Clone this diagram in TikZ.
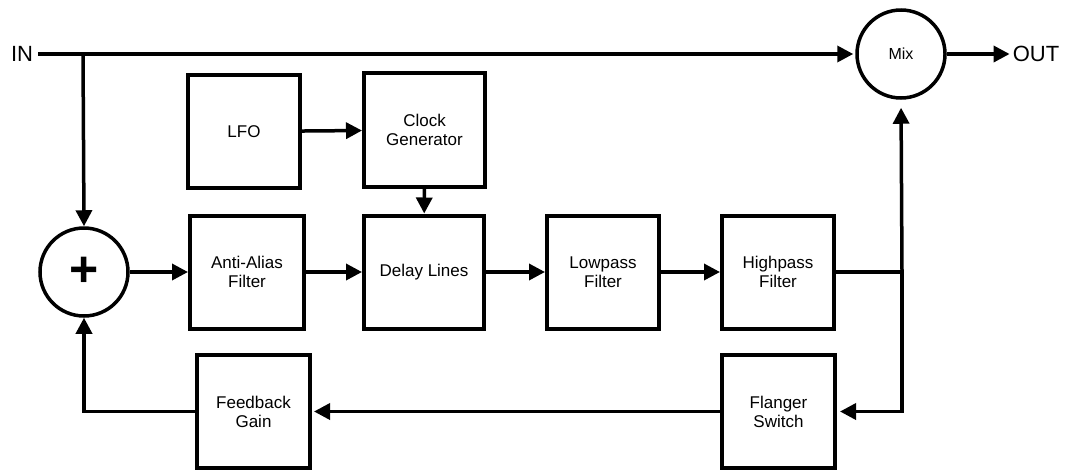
\documentclass[tikz,border=0pt]{standalone}
\usepackage{fontspec}
\setmainfont{Liberation Sans}
\usetikzlibrary{arrows.meta}
\begin{document}
\begin{tikzpicture}[x=1pt,y=1pt,
  blk/.style={draw,line width=4pt,minimum width=112pt,minimum height=113pt,align=center,font=\fontsize{17}{19}\selectfont,inner sep=0pt},
  sum/.style={draw,circle,line width=3.5pt,minimum size=88pt,inner sep=0pt},
  conn/.style={line width=3.5pt,-{Triangle[length=16pt,width=16pt]}},
  wire/.style={line width=3.5pt},
  port/.style={font=\fontsize{22}{24}\selectfont,inner sep=0pt}]
\useasboundingbox (0,0) rectangle (1067,-469);
\node[port] (in) at (22,-54) {IN};
\node[port] (out) at (1036,-54) {OUT};
\node[sum] (mix) at (901,-54) {\fontsize{16}{18}\selectfont Mix};
\node[sum] (plus) at (84,-272) {\fontsize{50}{50}\selectfont\bfseries +};
\node[blk] (lfo) at (244,-131.5) {LFO};
\node[blk,minimum width=121pt,minimum height=114pt] (clock) at (424.5,-130) {Clock\\Generator};
\node[blk,minimum width=114pt] (anti) at (247,-272) {Anti-Alias\\Filter};
\node[blk,minimum width=120pt] (delay) at (424,-272) {Delay Lines};
\node[blk] (low) at (603,-272) {Lowpass\\Filter};
\node[blk] (high) at (778,-272) {Highpass\\Filter};
\node[blk,minimum width=113pt] (flanger) at (778.5,-411.5) {Flanger\\Switch};
\node[blk,minimum width=113pt] (feedback) at (253.5,-411.5) {Feedback\\Gain};
\coordinate (br) at (83,-54);
\coordinate (jn) at (902,-272);
\draw[conn,shorten <=5pt,shorten >=2pt] (in.east) -- (mix.west);
\draw[conn] (br) -- (plus.north);
\draw[conn,shorten >=3pt] (mix.east) -- (out.west);
\draw[conn] (lfo) -- (clock);
\draw[conn] (clock) -- (delay);
\draw[conn] (plus) -- (anti);
\draw[conn] (anti) -- (delay);
\draw[conn] (delay) -- (low);
\draw[conn] (low) -- (high);
\draw[wire] (high.east) -- (jn);
\draw[conn,shorten >=8pt] (jn) -- (mix.south);
\draw[conn,shorten >=3pt] (jn) |- (flanger.east);
\draw[conn,shorten >=2pt] (flanger.west) -- (feedback.east);
\draw[conn] (feedback.west) -| (plus.south);
\end{tikzpicture}
\end{document}
